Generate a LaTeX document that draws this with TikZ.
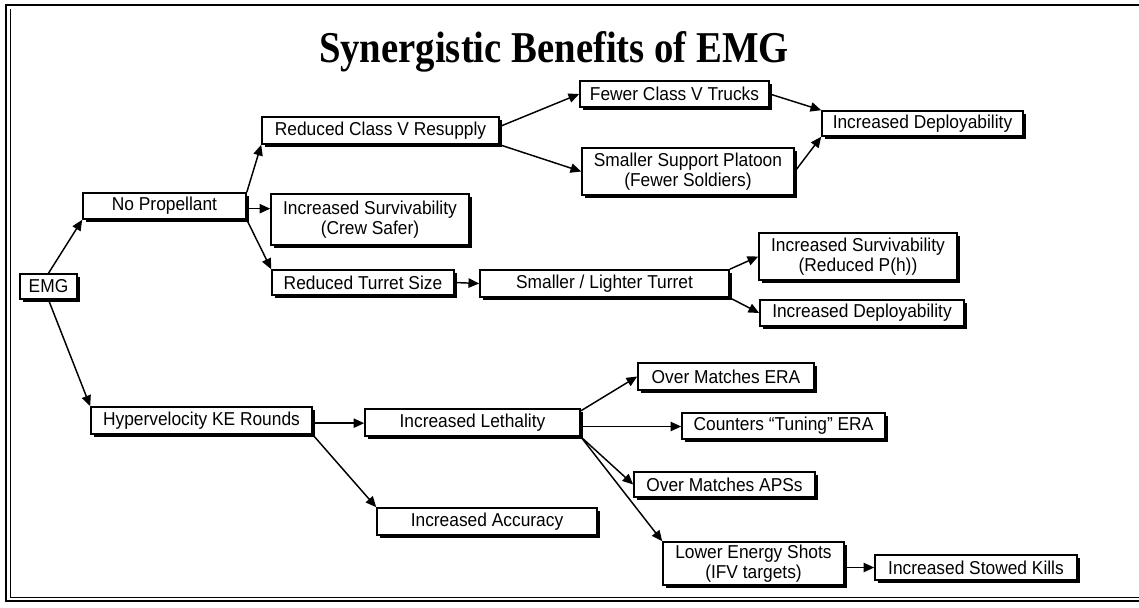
\documentclass[tikz,border=0pt]{standalone}
\usepackage{fontspec}
\setmainfont[FakeStretch=0.93]{Liberation Sans}
\newfontfamily\titlefont[FakeStretch=0.88]{Liberation Serif}
\usetikzlibrary{arrows.meta,shadows,calc}
\newcommand\mkbox[6]{\node[box, minimum width={(#4-#2)*0.75pt}, minimum height={(#5-#3)*0.75pt}] (#1) at ({(#2+#4)/2},{(#3+#5)/2}) {#6};}
\tikzset{
  box/.style={draw, line width=1.2pt, fill=white, inner sep=0pt, align=center,
    font=\fontsize{14}{15}\selectfont,
    drop shadow={shadow xshift=2.5pt, shadow yshift=-2.5pt, fill=black, opacity=1}},
  arr/.style={line width=1.1pt, -{Triangle[length=8pt,width=7pt]}},
  frame/.style={line width=1.6pt},
  inframe/.style={line width=0.6pt}
}
\begin{document}
\begin{tikzpicture}[x=0.75pt,y=-0.75pt]
\useasboundingbox (0,0) rectangle (1139,607);
\draw[frame] (1139,5) -- (6,5) -- (6,601) -- (1139,601);
\draw[inframe] (10,9) -- (10,597) -- (1139,597);
\node[font=\titlefont\bfseries\fontsize{33}{38}\selectfont, anchor=base] (title) at (554,62) {Synergistic Benefits of EMG};
\mkbox{emg}{20}{274}{77}{299}{EMG}
\mkbox{np}{83}{193}{246}{219}{No Propellant}
\mkbox{rcv}{262}{117}{499}{144}{Reduced Class V Resupply}
\mkbox{isa}{271}{194}{469}{245}{Increased Survivability\\(Crew Safer)}
\mkbox{rts}{272}{270}{454}{295}{Reduced Turret Size}
\mkbox{slt}{480}{270}{729}{297}{Smaller / Lighter Turret}
\mkbox{fct}{580}{81}{769}{107}{Fewer Class V Trucks}
\mkbox{ssp}{582}{148}{794}{195}{Smaller Support Platoon\\(Fewer Soldiers)}
\mkbox{ida}{822}{111}{1023}{136}{Increased Deployability}
\mkbox{isb}{759}{233}{957}{280}{Increased Survivability\\(Reduced P(h))}
\mkbox{idb}{760}{300}{964}{326}{Increased Deployability}
\mkbox{hke}{91}{407}{312}{434}{Hypervelocity KE Rounds}
\mkbox{il}{365}{409}{580}{436}{Increased Lethality}
\mkbox{ia}{377}{508}{597}{535}{Increased Accuracy}
\mkbox{ome}{638}{363}{814}{390}{Over Matches ERA}
\mkbox{cte}{682}{413}{885}{439}{Counters “Tuning” ERA}
\mkbox{oma}{634}{472}{815}{497}{Over Matches APSs}
\mkbox{les}{663}{542}{844}{585}{Lower Energy Shots\\(IFV targets)}
\mkbox{isk}{875}{555}{1077}{580}{Increased Stowed Kills}
\draw[arr] (emg.north) -- (np.south west);
\draw[arr] (emg.south) -- (hke.north west);
\draw[arr] (np.north east) -- (rcv.south west);
\draw[arr] ([yshift=-2pt]np.east) -- ([yshift=-2pt]np.east -| isa.west);
\draw[arr] (np.south east) -- (rts.north west);
\draw[arr] (rts.east) -- (slt.west);
\draw[arr] ([yshift=3pt]rcv.east) -- (fct.west);
\draw[arr] (rcv.south east) -- (ssp.west);
\draw[arr] (fct.east) -- (ida.north west);
\draw[arr] (ssp.east) -- (ida.south west);
\draw[arr] (slt.north east) -- (isb.west);
\draw[arr] (slt.south east) -- (idb.west);
\draw[arr] ([yshift=-2pt]hke.east) -- ([yshift=-2pt]hke.east -| il.west);
\draw[arr] (hke.south east) -- (ia.north west);
\draw[arr] ([yshift=-2pt]il.north east) -- (ome.west);
\draw[arr] ([yshift=-3pt]il.east) -- ([yshift=-3pt]il.east -| cte.west);
\draw[arr] (il.south east) -- (oma.west);
\draw[arr] (il.south east) -- (les.north west);
\draw[arr] (isk.west -| les.east) -- (isk.west);
\end{tikzpicture}
\end{document}
